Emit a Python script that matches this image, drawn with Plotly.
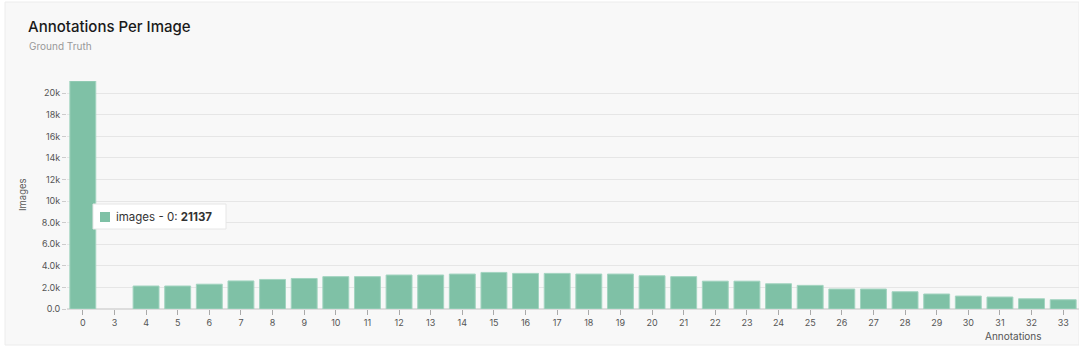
import plotly.graph_objects as go

categories = ["0", "3", "4", "5", "6", "7", "8", "9", "10", "11", "12", "13", "14", "15", "16",
              "17", "18", "19", "20", "21", "22", "23", "24", "25", "26", "27", "28", "29",
              "30", "31", "32", "33"]
images = [21137, 0, 2130, 2130, 2300, 2600, 2740, 2830, 3000, 3000, 3150, 3150, 3240, 3390,
          3300, 3300, 3240, 3240, 3080, 3000, 2580, 2580, 2340, 2190, 1850, 1850, 1600, 1390,
          1200, 1110, 950, 860]
y_tickvals = [0, 2000, 4000, 6000, 8000, 10000, 12000, 14000, 16000, 18000, 20000]
y_ticktext = ["0.0", "2.0k", "4.0k", "6.0k", "8.0k", "10k", "12k", "14k", "16k", "18k", "20k"]

W, H = 1079, 352
ML, MR, MT, MB = 67, 0, 81, 43
PW, PH = W - ML - MR, H - MT - MB


def px(x):
    return (x - ML) / PW


def py(y):
    return (H - MB - y) / PH


BAR = "#7fc1a6"
FONT = "Inter, Noto Sans, sans-serif"

fig = go.Figure()
fig.add_trace(go.Bar(
    x=categories, y=images, name="images",
    marker=dict(color=BAR, line=dict(color="#a3d4c0",
                                     width=[1 if v > 0 else 0 for v in images])),
    width=0.82,
))

shapes = [
    # card
    dict(type="rect", xref="paper", yref="paper", x0=px(5), x1=px(1079), y0=py(345), y1=py(2),
         fillcolor="#f8f8f8", line=dict(color="#ececec", width=1), layer="below"),
    # tooltip box
    dict(type="rect", xref="paper", yref="paper", x0=px(93), x1=px(226), y0=py(229), y1=py(204),
         fillcolor="#ffffff", line=dict(color="#e6e6e6", width=1), layer="above"),
    dict(type="rect", xref="paper", yref="paper", x0=px(100), x1=px(110), y0=py(222), y1=py(212),
         fillcolor=BAR, line=dict(width=0), layer="above"),
]

annotations = [
    dict(text="Annotations Per Image", xref="paper", yref="paper", x=px(26), y=py(27),
         xanchor="left", yanchor="middle", showarrow=False,
         font=dict(family=FONT, size=15, color="#1a1a1a", weight=500)),
    dict(text="Ground Truth", xref="paper", yref="paper", x=px(27), y=py(46),
         xanchor="left", yanchor="middle", showarrow=False,
         font=dict(family=FONT, size=10, color="#999999")),
    dict(text="images - 0: <b>21137</b>", xref="paper", yref="paper", x=px(114), y=py(217),
         xanchor="left", yanchor="middle", showarrow=False,
         font=dict(family=FONT, size=11.5, color="#333333")),
    dict(text="Annotations", xref="paper", yref="paper", x=px(1044), y=py(336),
         xanchor="right", yanchor="middle", showarrow=False,
         font=dict(family=FONT, size=10, color="#555555")),
    dict(text="Images", xref="paper", yref="paper", x=px(22), y=py(195),
         xanchor="center", yanchor="middle", showarrow=False, textangle=-90,
         font=dict(family=FONT, size=9.5, color="#555555")),
]

fig.update_layout(
    width=W, height=H,
    margin=dict(l=ML, r=MR, t=MT, b=MB),
    paper_bgcolor="#ffffff",
    plot_bgcolor="rgba(0,0,0,0)",
    showlegend=False,
    shapes=shapes,
    annotations=annotations,
    bargap=0.18,
    font=dict(family=FONT, size=9, color="#555555"),
    xaxis=dict(
        type="category", categoryorder="array", categoryarray=categories,
        showgrid=False, zeroline=False, showline=False,
        ticks="outside", ticklen=5, tickcolor="#aaaaaa", tickwidth=1,
        tickfont=dict(family=FONT, size=9, color="#555555"),
        range=[-0.5, len(categories) - 0.5],
    ),
    yaxis=dict(
        range=[0, max(images)],
        tickvals=y_tickvals, ticktext=y_ticktext,
        showgrid=True, gridcolor="#e6e6e6", gridwidth=1,
        zeroline=True, zerolinecolor="#dddddd",
        ticks="outside", ticklen=4, tickcolor="#cccccc",
        tickfont=dict(family=FONT, size=9, color="#555555"),
        showline=False,
    ),
)

fig.write_html("out.html")
